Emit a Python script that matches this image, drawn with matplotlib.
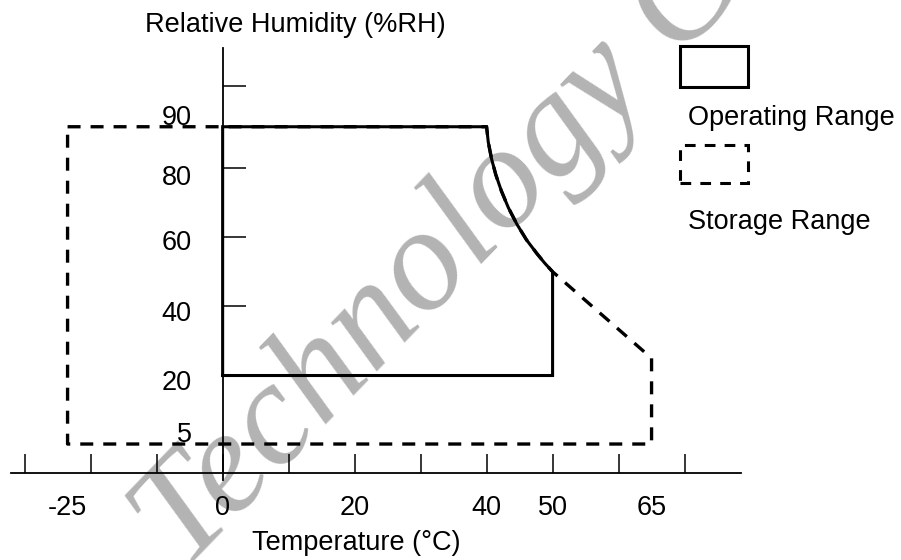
import numpy as np
import matplotlib
matplotlib.use("Agg")
import matplotlib.pyplot as plt
from matplotlib.patches import Rectangle

plt.rcParams['font.family'] = ['Liberation Sans', 'DejaVu Sans']

# ---- data ----
curve_temp = [40, 40.25, 40.75, 41.4, 42.25, 43.3, 44.6, 46.05, 47.6, 48.8, 50]
curve_rh = [90, 86.3, 82.2, 78, 73.3, 68.5, 63.7, 59.2, 55.3, 52.5, 50]

op_temp = [0, 0] + curve_temp + [50, 0]
op_rh = [20, 90] + curve_rh + [20, 20]

st_temp = [-25] + curve_temp + [65, 65, -25, -25]
st_rh = [90] + curve_rh + [25, 5, 5, 90]

x_tick_marks = [-30, -20, -10, 0, 10, 20, 30, 40, 50, 60, 70]
x_label_vals = [-25, 0, 20, 40, 50, 65]
y_tick_marks = [20, 40, 60, 80, 90, 100]
y_label_vals = [5, 20, 40, 60, 80, 90]

title_y = "Relative Humidity (%RH)"
title_x = "Temperature (°C)"
legend_labels = ["Operating Range", "Storage Range"]
watermark = "Technology Co"

# ---- schematic (non-uniform) axis scales ----
xd = [-1000, -30, -25, -20, 1000]
xv = [-1000, -30, -23.5, -20, 1000]
yd = [-1000, 0, 5, 20, 80, 90, 100, 1000]
yv = [-1008.3, -8.3, 0.2, 20, 80, 91.9, 103.7, 1003.7]

def fx(x):
    return np.interp(x, xd, xv)
def ifx(v):
    return np.interp(v, xv, xd)
def fy(y):
    return np.interp(y, yd, yv)
def ify(v):
    return np.interp(v, yv, yd)

W, H = 901, 560
fig = plt.figure(figsize=(W / 100, H / 100), dpi=100)
ax = fig.add_axes([0, 0, 1, 1])
ax.set_xscale('function', functions=(fx, ifx))
ax.set_yscale('function', functions=(fy, ify))
ax.set_xlim(-33.74, 102.8)
ax.set_ylim(-25.02, 124.83)

for s in ['top', 'right']:
    ax.spines[s].set_visible(False)
ax.spines['left'].set_position(('data', 0))
ax.spines['bottom'].set_position(('data', 0))
ax.spines['left'].set_bounds(-1.9, 110.9)
ax.spines['bottom'].set_bounds(-32.1, 78.5)
ax.spines['left'].set_linewidth(1.3)
ax.spines['bottom'].set_linewidth(1.3)

ax.xaxis.remove_overlapping_locs = False
ax.set_xticks(x_tick_marks)
ax.set_xticklabels([])
ax.set_xticks(x_label_vals, [str(v) for v in x_label_vals], minor=True)
ax.tick_params(axis='x', which='major', direction='in', length=13.7, width=1.1)
ax.tick_params(axis='x', which='minor', length=0, pad=15.5, labelsize=19.5)

ax.set_yticks(y_tick_marks)
ax.set_yticklabels([])
ax.yaxis.set_minor_locator(matplotlib.ticker.NullLocator())
ax.tick_params(axis='y', which='major', direction='in', length=16.6, width=1.1)

ylabel_dy = {5: 9, 20: -7.5, 40: -8, 60: -6, 80: -10.5, 90: 8.7}
for v in y_label_vals:
    ax.annotate(str(v), xy=(0, v), xycoords='data', xytext=(-31, ylabel_dy[v]),
                textcoords='offset pixels', ha='right', va='center', fontsize=19.5,
                zorder=4, annotation_clip=False)

# watermark
ax.text(0.205, -0.02, watermark, transform=fig.transFigure, rotation=46,
        rotation_mode='anchor', ha='left', va='baseline', fontsize=106,
        family='Liberation Serif', style='italic', color='#b3b3b3', zorder=0.5,
        clip_on=False)

dash = (0, (3.9, 3.0))
ax.plot(st_temp, st_rh, color='black', lw=2.4, linestyle=dash, zorder=2)
ax.plot(op_temp, op_rh, color='black', lw=2.2, solid_joinstyle='miter', zorder=3)

# legend
fig.patches.append(Rectangle((680 / W, 1 - 87 / H), 68 / W, 41 / H, transform=fig.transFigure,
                             fill=False, lw=2.2, edgecolor='black'))
fig.patches.append(Rectangle((680 / W, 1 - 183 / H), 68 / W, 38 / H, transform=fig.transFigure,
                             fill=False, lw=2.2, edgecolor='black', linestyle=(0, (3.5, 3.0))))
fig.text(688 / W, 1 - 118 / H, legend_labels[0], ha='left', va='center', fontsize=19.5)
fig.text(688 / W, 1 - 222 / H, legend_labels[1], ha='left', va='center', fontsize=19.5)

fig.text(295 / W, 1 - 25 / H, title_y, ha='center', va='center', fontsize=19.5)
fig.text(356 / W, 1 - 543 / H, title_x, ha='center', va='center', fontsize=19.5)

fig.savefig('out.png', dpi=100)
